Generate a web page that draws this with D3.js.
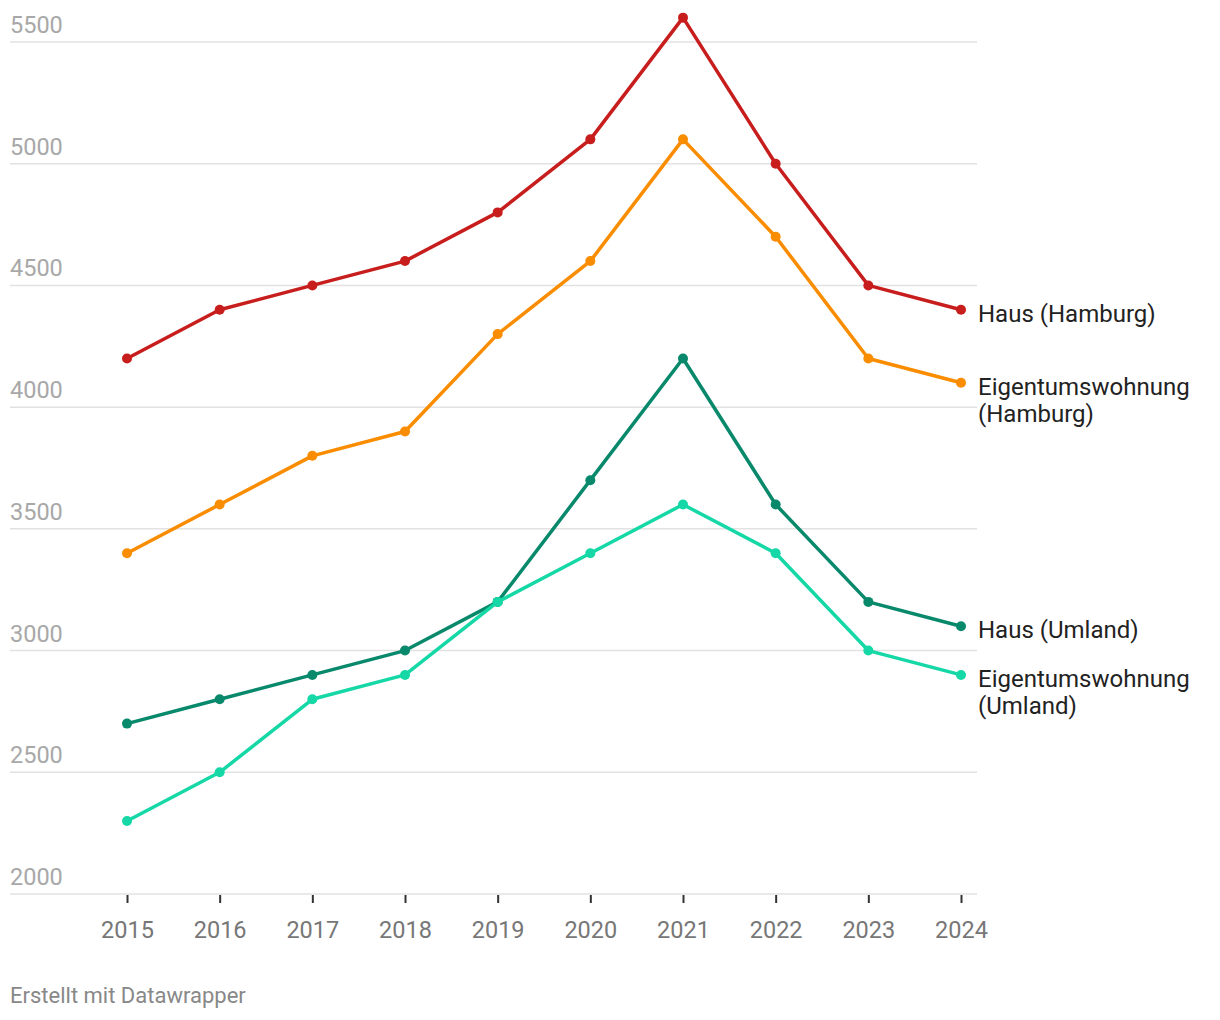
<!DOCTYPE html>
<html><head><meta charset="utf-8">
<script src="https://cdn.jsdelivr.net/npm/d3@7"></script>
<style>
body{margin:0;background:#fff;}
svg{display:block;font-family:Roboto,"Noto Sans",sans-serif;}
</style></head>
<body>
<svg id="chart" width="1220" height="1020"></svg>
<script>
const years = [2015, 2016, 2017, 2018, 2019, 2020, 2021, 2022, 2023, 2024];
const hausHamburg = [4200, 4400, 4500, 4600, 4800, 5100, 5600, 5000, 4500, 4400];
const etwHamburg = [3400, 3600, 3800, 3900, 4300, 4600, 5100, 4700, 4200, 4100];
const hausUmland = [2700, 2800, 2900, 3000, 3200, 3700, 4200, 3600, 3200, 3100];
const etwUmland = [2300, 2500, 2800, 2900, 3200, 3400, 3600, 3400, 3000, 2900];
const seriesNames = [["Haus (Hamburg)"], ["Eigentumswohnung", "(Hamburg)"], ["Haus (Umland)"], ["Eigentumswohnung", "(Umland)"]];
const seriesColors = ["#c71e1d", "#fa8c00", "#09896b", "#15d8a6"];
const yTicks = [2000, 2500, 3000, 3500, 4000, 4500, 5000, 5500];
const footer = "Erstellt mit Datawrapper";

const seriesValues = [hausHamburg, etwHamburg, hausUmland, etwUmland];
const svg = d3.select("#chart");
const x = d3.scalePoint().domain(years).range([127, 961]);
const y = d3.scaleLinear().domain([2000, 5500]).range([894, 42]);

// grid
const g = svg.append("g");
g.selectAll("line.grid").data(yTicks).join("line")
  .attr("x1", 10).attr("x2", 977)
  .attr("y1", d => y(d)).attr("y2", d => y(d))
  .attr("stroke", "#e2e2e2").attr("stroke-width", 1.5);
g.selectAll("text.yl").data(yTicks).join("text")
  .attr("x", 10).attr("y", d => y(d) - 9)
  .attr("fill", "#a8a8a8").attr("font-size", 23.5)
  .text(d => d);

// x axis
const xAxis = d3.axisBottom(x).tickSize(8).tickPadding(0).tickFormat(d => d);
const ax = svg.append("g").attr("transform", "translate(0,895)").call(xAxis);
ax.select(".domain").remove();
ax.selectAll(".tick line").attr("stroke", "#333").attr("stroke-width", 2);
ax.selectAll(".tick text").attr("y", 43).attr("dy", null).attr("fill", "#777")
  .attr("font-size", 23.5).attr("font-family", "Roboto,'Noto Sans',sans-serif");

// lines
const line = d3.line().x((d, i) => x(years[i])).y(d => y(d));
seriesValues.forEach((vals, si) => {
  svg.append("path").datum(vals).attr("d", line)
    .attr("fill", "none").attr("stroke", seriesColors[si])
    .attr("stroke-width", 3.5).attr("stroke-linejoin", "round");
  svg.append("g").selectAll("circle").data(vals).join("circle")
    .attr("cx", (d, i) => x(years[i])).attr("cy", d => y(d))
    .attr("r", 5).attr("fill", seriesColors[si]);
  const last = vals[vals.length - 1];
  const t = svg.append("text").attr("x", 978).attr("y", y(last) + 12)
    .attr("fill", "#222").attr("font-size", 24);
  seriesNames[si].forEach((s, k) => {
    t.append("tspan").attr("x", 978).attr("dy", k === 0 ? 0 : 27).text(s);
  });
});

svg.append("text").attr("x", 10).attr("y", 1003).attr("fill", "#888")
  .attr("font-size", 22).text(footer);
</script>
</body></html>
